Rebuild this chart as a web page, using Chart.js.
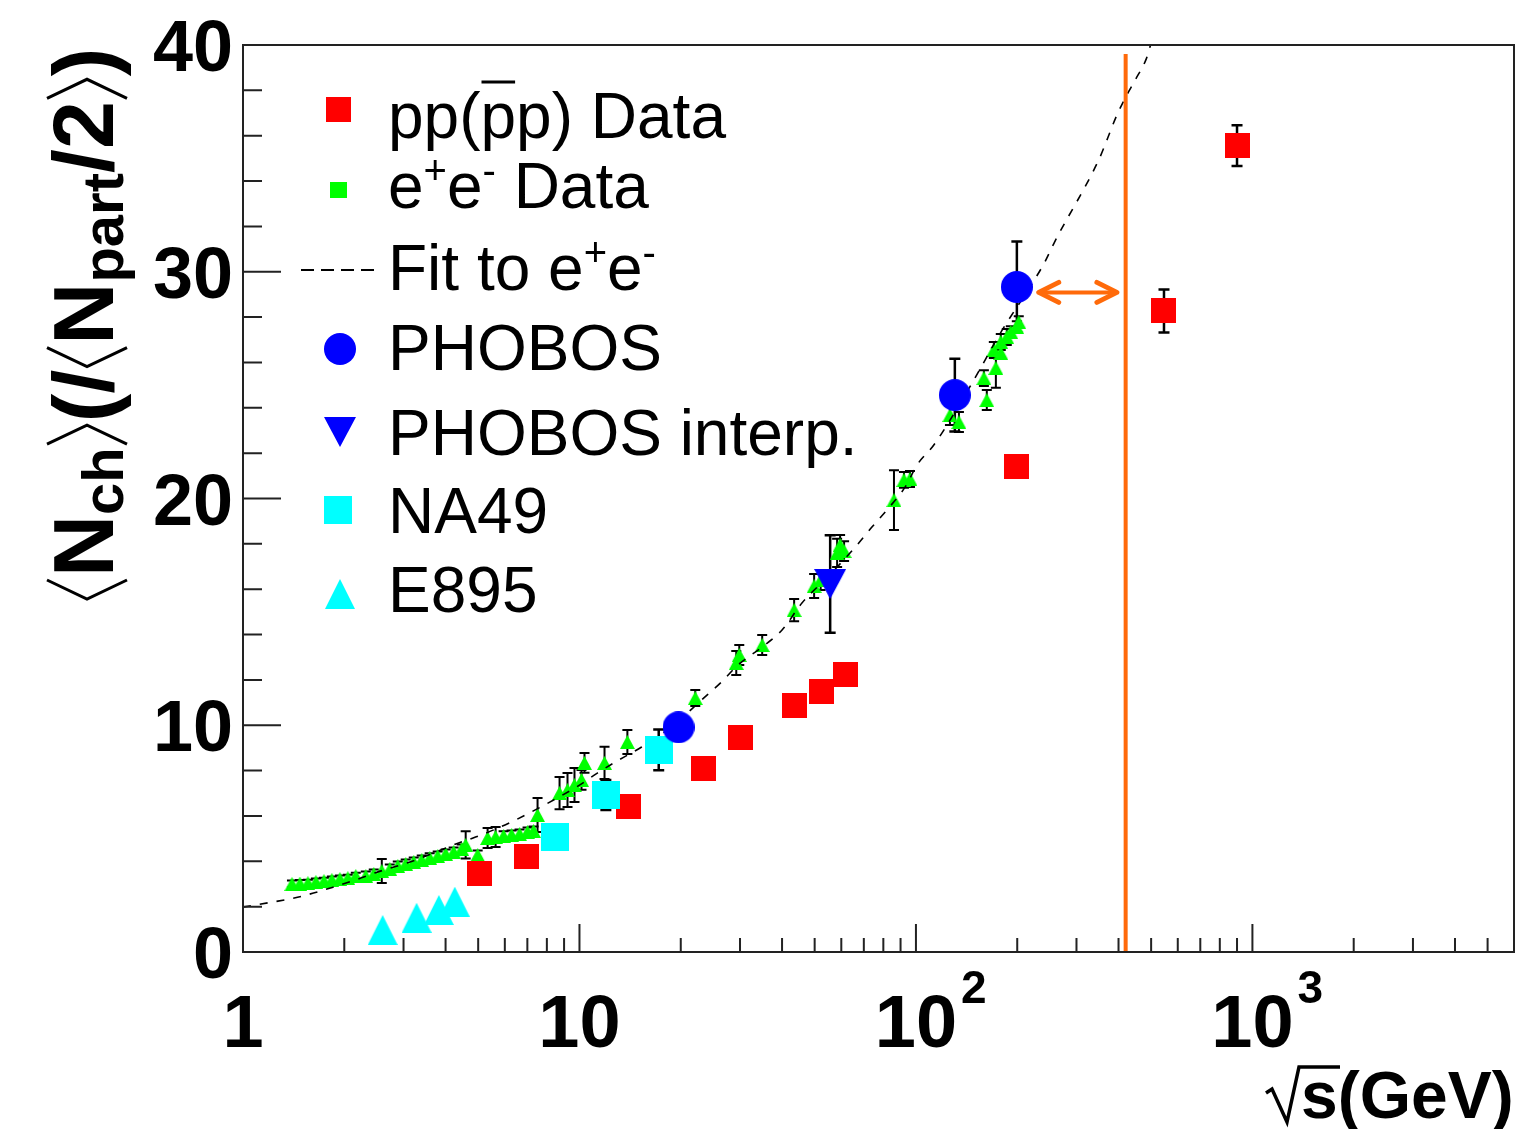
<!DOCTYPE html>
<html><head><meta charset="utf-8">
<script src="https://cdn.jsdelivr.net/npm/chart.js@4.4.1/dist/chart.umd.min.js"></script>
<style>html,body{margin:0;padding:0;background:#fff;}canvas{display:block;}</style>
</head><body>
<canvas id="c" width="1520" height="1129"></canvas>
<script>
// ---------------- data ----------------
const ppX   = [5.05, 6.98, 14.0, 23.4, 30.1, 43.6, 52.3, 61.9, 199.6, 546, 900];
const ppY   = [3.44, 4.23, 6.41, 8.10, 9.45, 10.88, 11.51, 12.22, 21.40, 28.27, 35.56];
const ppErr = [0, 0, 0, 0, 0, 0, 0, 0, 0, 0.95, 0.9];

const eeX = [1.398,1.476,1.559,1.647,1.740,1.837,1.941,2.049,2.164,2.317,2.447,2.585,2.731,2.884,3.045,3.217,3.398,3.588,3.790,4.003,4.228,4.467,4.590,4.982,5.333,5.633,5.950,6.284,6.637,7.010,7.303,7.506,8.726,9.214,9.665,10.14,10.35,11.87,13.88,22.09,29.24,29.85,34.92,43.45,49.82,52.09,58.31,59.51,61.16,86.04,92.13,96.0,126.2,134.2,159.2,162.4,170.4,172.8,178.7,178.7,186.2,191.4,199.4,202.1];
const eeY = [3.00,3.02,3.04,3.09,3.13,3.18,3.22,3.26,3.35,3.35,3.44,3.57,3.66,3.79,3.88,3.97,4.06,4.15,4.23,4.32,4.41,4.54,4.72,4.28,5.03,5.07,5.12,5.16,5.20,5.29,5.34,6.04,7.01,7.14,7.36,7.59,8.34,8.34,9.26,11.20,12.75,13.10,13.54,15.08,16.14,16.41,17.60,17.95,17.68,19.93,20.82,20.86,23.68,23.37,25.31,24.34,26.55,25.76,26.90,26.42,27.12,27.34,27.56,27.78];
const eeErr = [0.15,0.15,0.15,0.15,0.15,0.15,0.15,0.15,0.15,0.2,0.2,0.53,0.2,0.2,0.2,0.2,0.2,0.2,0.2,0.2,0.2,0.2,0.6,0.2,0.44,0.44,0.2,0.2,0.2,0.2,0.2,0.75,0.71,0.75,0.75,0.44,0.44,0.71,0.53,0.35,0.53,0.44,0.44,0.49,0.53,0.44,0.62,0.44,0.44,1.32,0.35,0.35,0.44,0.44,0.35,0.44,0.35,0.88,0.35,0.26,0.35,0.26,0.26,0.26];

const phobosX = [19.7, 130.5, 199.5];
const phobosY = [9.91, 24.56, 29.33];
const phobosErr = [0, 1.6, 2.0];

const interpX = [55.6];
const interpY = [16.23];
const interpErr = [2.15];

const na49X = [8.47, 11.98, 17.2];
const na49Y = [5.08, 6.92, 8.91];
const na49Err = [0, 0.66, 0.9];

const e895X = [2.60, 3.28, 3.82, 4.26];
const e895Y = [0.97, 1.51, 1.85, 2.22];

const fitX = [1.0,1.22,1.42,1.62,1.86,2.18,2.48,2.84,3.26,3.74,4.29,4.91,5.63,6.41,7.66,10.0,11.3,13.1,15.3,19.0,23.0,26.4,29.6,34.9,40.0,45.9,56.0,66.4,74.0,83.2,92.8,101,113,145.6,180,224,241,258,351,371.5,392.6,420,450,484,498];
const fitY = [1.98,2.20,2.38,2.60,2.87,3.20,3.50,3.77,4.06,4.41,4.76,5.07,5.42,5.80,6.39,7.36,7.89,8.47,9.04,10.0,11.1,11.9,12.66,13.45,14.2,15.4,16.7,17.9,18.74,19.6,20.5,21.5,22.36,25.0,27.4,29.6,30.4,31.3,35.0,35.9,36.8,37.7,38.5,39.4,40.0];

const limitX = [420, 420];
const limitY = [0, 39.6];
const arrowX = [231.7, 395.6];
const arrowY = [29.09, 29.09];

const xMajor = [1, 10, 100, 1000];
const xMinor = [2,3,4,5,6,7,8,9,20,30,40,50,60,70,80,90,200,300,400,500,600,700,800,900,2000,3000,4000,5000];
const yMajor = [0, 10, 20, 30, 40];
const yMinor = [2,4,6,8,12,14,16,18,22,24,26,28,32,34,36,38];
const xTickLabels = [{b:'1'}, {b:'10'}, {b:'10', s:'2'}, {b:'10', s:'3'}];
const yTickLabels = ['0', '10', '20', '30', '40'];

const ORANGE = '#ff6a0a';
// ---------------- marker images ----------------
function mk(shape, w, h, color){
  const c = document.createElement('canvas'); c.width = w; c.height = h;
  const g = c.getContext('2d'); g.fillStyle = color; g.beginPath();
  if (shape === 'square') g.rect(0,0,w,h);
  else if (shape === 'circle') g.arc(w/2,h/2,w/2,0,Math.PI*2);
  else if (shape === 'tri') { g.moveTo(0,h); g.lineTo(w/2,0); g.lineTo(w,h); g.closePath(); }
  else if (shape === 'itri') { g.moveTo(0,0); g.lineTo(w,0); g.lineTo(w/2,h); g.closePath(); }
  g.fill(); return c;
}
const M = {
  red: mk('square',25,25,'#ff0000'),
  green: mk('tri',15,14,'#00ff00'),
  blue: mk('circle',32,32,'#0000ff'),
  itri: mk('itri',32,30,'#0000ff'),
  cyanSq: mk('square',28,28,'#00ffff'),
  cyanTri: mk('tri',30,30,'#00ffff')
};
const pts = (X, Y) => X.map((x, i) => ({x, y: Y[i]}));

// ---------------- helpers ----------------
function bracket(ctx, x, y, dir, w, top, bot, lw){
  ctx.save(); ctx.lineWidth = lw; ctx.strokeStyle = '#000'; ctx.beginPath();
  const mid = y + (top + bot) / 2;
  if (dir === '<') { ctx.moveTo(x + w - 3, y + top); ctx.lineTo(x + 3, mid); ctx.lineTo(x + w - 3, y + bot); }
  else { ctx.moveTo(x + 3, y + top); ctx.lineTo(x + w - 3, mid); ctx.lineTo(x + 3, y + bot); }
  ctx.stroke(); ctx.restore();
}
function runs(ctx, x, y, list){
  let cx = x;
  for (const r of list){
    if (r.br){ bracket(ctx, cx, y, r.br, r.w, r.top, r.bot, r.lw); cx += r.w; continue; }
    ctx.font = r.f; ctx.fillText(r.t, cx, y + (r.dy || 0));
    cx += ctx.measureText(r.t).width + (r.gap || 0);
  }
  return cx;
}

const deco = {
  id: 'deco',
  beforeDatasetsDraw(chart){
    const {ctx, scales:{x: xs, y: ys}} = chart;
    ctx.save(); ctx.strokeStyle = '#000';
    const bars = (X, Y, E, lw, cap) => {
      ctx.lineWidth = lw;
      X.forEach((xv, i) => {
        if (!E[i]) return;
        const px = xs.getPixelForValue(xv);
        const y1 = ys.getPixelForValue(Y[i] - E[i]), y2 = ys.getPixelForValue(Y[i] + E[i]);
        ctx.beginPath(); ctx.moveTo(px, y1); ctx.lineTo(px, y2);
        ctx.moveTo(px - cap, y1); ctx.lineTo(px + cap, y1);
        ctx.moveTo(px - cap, y2); ctx.lineTo(px + cap, y2); ctx.stroke();
      });
    };
    bars(eeX, eeY, eeErr, 2, 5);
    bars(ppX, ppY, ppErr, 2.5, 5.5);
    bars(na49X, na49Y, na49Err, 2.5, 5.5);
    bars(phobosX, phobosY, phobosErr, 2.5, 5.5);
    bars(interpX, interpY, interpErr, 2.5, 5.5);
    ctx.restore();
  },
  afterDraw(chart){
    const {ctx, chartArea: a, scales:{x: xs, y: ys}} = chart;
    ctx.save();
    // frame
    ctx.strokeStyle = '#222'; ctx.lineWidth = 2;
    ctx.strokeRect(a.left, a.top, a.right - a.left, a.bottom - a.top);
    // ticks
    ctx.lineWidth = 2; ctx.strokeStyle = '#222'; ctx.beginPath();
    xMajor.forEach(v => { const p = xs.getPixelForValue(v); ctx.moveTo(p, a.bottom); ctx.lineTo(p, a.bottom - 28); });
    xMinor.forEach(v => { const p = xs.getPixelForValue(v); ctx.moveTo(p, a.bottom); ctx.lineTo(p, a.bottom - 14); });
    yMajor.forEach(v => { const p = ys.getPixelForValue(v); ctx.moveTo(a.left, p); ctx.lineTo(a.left + 38, p); });
    yMinor.forEach(v => { const p = ys.getPixelForValue(v); ctx.moveTo(a.left, p); ctx.lineTo(a.left + 19, p); });
    ctx.stroke();
    // tick labels
    ctx.fillStyle = '#000'; ctx.textBaseline = 'alphabetic';
    ctx.font = 'bold 72px "Liberation Sans", Arial, sans-serif'; ctx.textAlign = 'right';
    yMajor.forEach((v, i) => { ctx.fillText(yTickLabels[i], a.left - 10, ys.getPixelForValue(v) + 26); });
    xMajor.forEach((v, i) => {
      const p = xs.getPixelForValue(v), L = xTickLabels[i];
      ctx.font = 'bold 74px "Liberation Sans", Arial, sans-serif'; ctx.textAlign = 'center';
      ctx.fillText(L.b, p, 1047);
      if (L.s){ const w = ctx.measureText(L.b).width; ctx.textAlign = 'left';
        ctx.font = 'bold 46px "Liberation Sans", Arial, sans-serif'; ctx.fillText(L.s, p + w/2 + 4, 1003); }
    });
    ctx.textAlign = 'left';
    // x title  √s(GeV)
    ctx.lineWidth = 3.5; ctx.strokeStyle = '#000'; ctx.lineJoin = 'miter'; ctx.beginPath();
    ctx.moveTo(1266, 1093); ctx.lineTo(1272, 1089); ctx.lineTo(1287, 1122); ctx.lineTo(1299, 1067); ctx.lineTo(1340, 1067); ctx.stroke();
    ctx.font = 'bold 66px "Liberation Sans", Arial, sans-serif'; ctx.fillText('s(GeV)', 1301, 1118);
    // y title (rotated)
    ctx.save(); ctx.translate(113, 602); ctx.rotate(-Math.PI/2);
    const FB = 'bold 86px "Liberation Sans", Arial, sans-serif', FS = 'bold 58px "Liberation Sans", Arial, sans-serif';
    const BR = {w:25, top:-66, bot:14, lw:3};
    runs(ctx, 0, 0, [
      Object.assign({br:'<'}, BR), {t:'N', f:FB}, {t:'ch', f:FS, dy:10}, Object.assign({br:'>'}, BR),
      {t:'(', f:FB}, {t:'/', f:FB}, Object.assign({br:'<'}, BR), {t:'N', f:FB}, {t:'part', f:FS, dy:10},
      {t:'/2', f:FB}, Object.assign({br:'>'}, BR), {t:')', f:FB}
    ]);
    ctx.restore();
    // orange arrow heads
    ctx.save();
    ctx.strokeStyle = ORANGE; ctx.lineWidth = 5; ctx.lineCap = 'round'; ctx.lineJoin = 'round';
    const ax1 = xs.getPixelForValue(arrowX[0]), ax2 = xs.getPixelForValue(arrowX[1]), ay = ys.getPixelForValue(arrowY[0]);
    ctx.beginPath();
    ctx.moveTo(ax1 + 20, ay - 10); ctx.lineTo(ax1, ay); ctx.lineTo(ax1 + 20, ay + 10);
    ctx.moveTo(ax2 - 20, ay - 10); ctx.lineTo(ax2, ay); ctx.lineTo(ax2 - 20, ay + 10);
    ctx.stroke();
    ctx.restore();
    // legend
    const LF = '64px "Liberation Sans", Arial, sans-serif', LS = '40px "Liberation Sans", Arial, sans-serif';
    const img = (m, cx, cy) => ctx.drawImage(m, Math.round(cx - m.width/2), Math.round(cy - m.height/2));
    ctx.fillStyle = '#000'; ctx.strokeStyle = '#000';
    img(M.red, 338, 109);
    ctx.drawImage(mk('square',17,16,'#00ff00'), 330, 182);
    ctx.save(); ctx.lineWidth = 2; ctx.setLineDash([13, 7]);
    ctx.beginPath(); ctx.moveTo(301, 270); ctx.lineTo(376, 270); ctx.stroke(); ctx.restore();
    img(M.blue, 340, 349); img(M.itri, 340, 432); img(M.cyanSq, 338, 510); img(M.cyanTri, 340, 594);
    ctx.font = LF;
    ctx.fillText('pp(pp) Data', 388, 138);
    const ovx = 388 + ctx.measureText('pp(').width, ovw = ctx.measureText('p').width;
    ctx.lineWidth = 3; ctx.beginPath(); ctx.moveTo(ovx + 1, 82); ctx.lineTo(ovx + ovw - 1, 82); ctx.stroke();
    runs(ctx, 388, 208, [{t:'e', f:LF}, {t:'+', f:LS, dy:-24}, {t:'e', f:LF}, {t:'-', f:LS, dy:-24}, {t:' Data', f:LF}]);
    runs(ctx, 388, 290, [{t:'Fit to e', f:LF}, {t:'+', f:LS, dy:-24}, {t:'e', f:LF}, {t:'-', f:LS, dy:-24}]);
    ctx.font = LF;
    ctx.fillText('PHOBOS', 388, 370);
    ctx.fillText('PHOBOS interp.', 388, 455);
    ctx.fillText('NA49', 388, 533);
    ctx.fillText('E895', 388, 612);
    ctx.restore();
  }
};

new Chart(document.getElementById('c'), {
  type: 'scatter',
  data: { datasets: [
    {label:'limit', data: pts(limitX, limitY), showLine:true, borderColor:ORANGE, borderWidth:4, pointRadius:0, order:1},
    {label:'arrow', data: pts(arrowX, arrowY), showLine:true, borderColor:ORANGE, borderWidth:4, pointRadius:0, order:1},
    {label:'PHOBOS interp.', data: pts(interpX, interpY), pointStyle:M.itri, pointRadius:5, order:2},
    {label:'PHOBOS', data: pts(phobosX, phobosY), pointStyle:M.blue, pointRadius:5, order:3},
    {label:'E895', data: pts(e895X, e895Y), pointStyle:M.cyanTri, pointRadius:5, order:4},
    {label:'NA49', data: pts(na49X, na49Y), pointStyle:M.cyanSq, pointRadius:5, order:5},
    {label:'pp', data: pts(ppX, ppY), pointStyle:M.red, pointRadius:5, order:6},
    {label:'fit', data: pts(fitX, fitY), showLine:true, borderColor:'#000', borderWidth:1.6, borderDash:[8,9], pointRadius:0, cubicInterpolationMode:'monotone', order:7},
    {label:'ee', data: pts(eeX, eeY), pointStyle:M.green, pointRadius:5, order:8}
  ]},
  options: {
    responsive:false, animation:false, devicePixelRatio:1,
    layout:{padding:{left:243, right:4, top:45, bottom:177}},
    scales:{
      x:{type:'logarithmic', min:1, max:5990, display:false},
      y:{type:'linear', min:0, max:40, display:false}
    },
    plugins:{legend:{display:false}, tooltip:{enabled:false}},
    events:[]
  },
  plugins:[deco]
});
</script>
</body></html>
